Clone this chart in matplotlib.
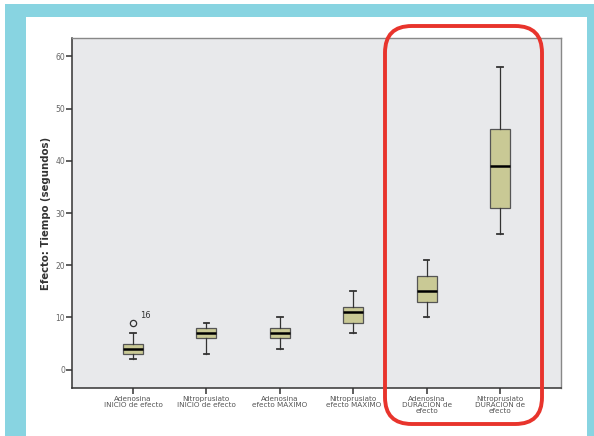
import matplotlib
matplotlib.use("Agg")
import matplotlib.pyplot as plt
from matplotlib.patches import Rectangle, FancyBboxPatch

categories = ["Adenosina\nINICIO de efecto", "Nitroprusiato\nINICIO de efecto",
              "Adenosina\nefecto MAXIMO", "Nitroprusiato\nefecto MAXIMO",
              "Adenosina\nDURACION de\nefecto", "Nitroprusiato\nDURACION de\nefecto"]
whislo = [2, 3, 4, 7, 10, 26]
q1 = [3, 6, 6, 9, 13, 31]
med = [4, 7, 7, 11, 15, 39]
q3 = [5, 8, 8, 12, 18, 46]
whishi = [7, 9, 10, 15, 21, 58]
outliers = [[9], [], [], [], [], []]
outlier_ids = {0: "16"}

W, H = 594, 436
fig = plt.figure(figsize=(W / 100, H / 100), dpi=100)

# teal frame with white panel inside
fig.patches.append(Rectangle((5 / W, 0), 589 / W, (H - 4) / H, transform=fig.transFigure,
                             facecolor="#88D4E1", edgecolor="none", zorder=-2))
fig.patches.append(Rectangle((26 / W, 0), 561 / W, (H - 17) / H, transform=fig.transFigure,
                             facecolor="white", edgecolor="none", zorder=-1))

ax = fig.add_axes([72 / W, (H - 388) / H, (561 - 72) / W, (388 - 38) / H])
ax.set_zorder(1)
ax.set_facecolor("#E8E9EB")

stats = []
for i in range(len(categories)):
    stats.append(dict(whislo=whislo[i], q1=q1[i], med=med[i], q3=q3[i],
                      whishi=whishi[i], fliers=outliers[i]))

positions = list(range(1, len(categories) + 1))
ax.bxp(stats, positions=positions, widths=0.27, patch_artist=True,
       boxprops=dict(facecolor="#C9C995", edgecolor="#555555", linewidth=0.9),
       medianprops=dict(color="black", linewidth=1.8),
       whiskerprops=dict(color="#333333", linewidth=0.9),
       capprops=dict(color="#333333", linewidth=1.3),
       capwidths=0.075,
       flierprops=dict(marker="o", markerfacecolor="none", markeredgecolor="#333333",
                       markersize=4.5, markeredgewidth=0.9))

for i, label in outlier_ids.items():
    for v in outliers[i]:
        ax.text(positions[i] + 0.1, v + 0.6, label, fontsize=6, color="#333333",
                ha="left", va="bottom")

ax.set_xlim(0.17, 6.83)
ax.set_ylim(-3.5, 63.5)
ax.set_yticks([0, 10, 20, 30, 40, 50, 60])
ax.set_xticks(positions)
ax.set_xticklabels(categories, fontsize=5.2, color="#555555", linespacing=1.0)
ax.tick_params(axis="y", labelsize=5.5, labelcolor="#666666", length=4, width=1.1,
               color="#333333", pad=1)
ax.tick_params(axis="x", length=4, width=1.1, color="#333333", pad=2)
ax.set_ylabel("Efecto: Tiempo (segundos)", fontsize=7.3, fontweight="bold",
              color="#333333", labelpad=3)

for side in ["left", "bottom"]:
    ax.spines[side].set_color("#333333")
    ax.spines[side].set_linewidth(1.1)
for side in ["top", "right"]:
    ax.spines[side].set_color("#888888")
    ax.spines[side].set_linewidth(1.0)

# red rounded highlight around the DURACION boxes
fig.patches.append(FancyBboxPatch((385 / W, (H - 424) / H), (542 - 385) / W, (424 - 26) / H,
                                  boxstyle="round,pad=0,rounding_size=0.045",
                                  mutation_aspect=W / H,
                                  transform=fig.transFigure, facecolor="none",
                                  edgecolor="#E8342C", linewidth=2.8, zorder=10))

fig.savefig("out.png", dpi=100)
